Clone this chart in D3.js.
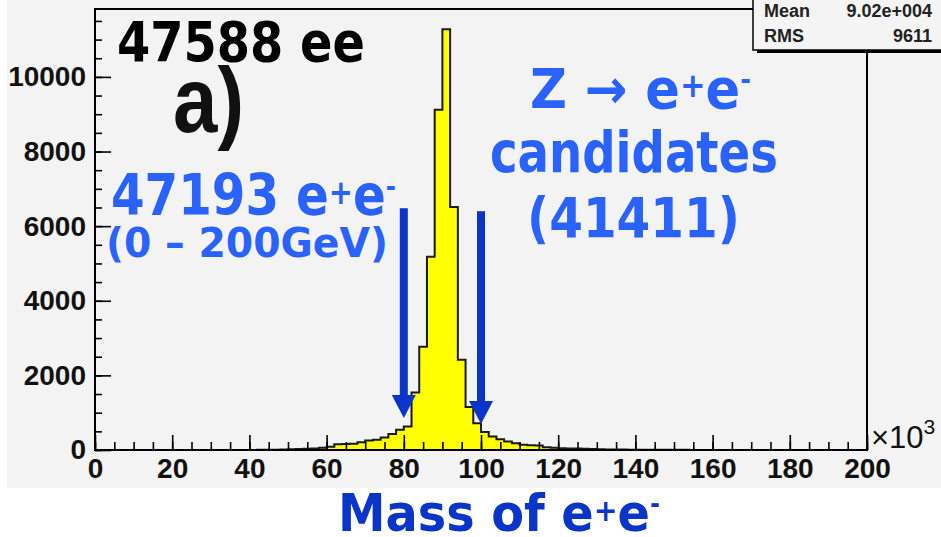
<!DOCTYPE html>
<html>
<head>
<meta charset="utf-8">
<script src="https://cdn.jsdelivr.net/npm/d3@7"></script>
<style>
  body { margin: 0; background: #fff; }
  svg { display: block; }
</style>
</head>
<body>
<div id="chart"></div>
<script>
// Histogram of e+e- invariant mass, 2 GeV bins from 0 to 200 (x10^3 MeV)
const binWidth = 2;
const binCounts = [
  0, 0, 0, 0, 0, 0, 0, 0, 0, 0,
  0, 0, 0, 0, 0, 0, 0, 0, 0, 0,
  3, 5, 8, 10, 14, 20, 26, 32, 42, 60,
  85, 155, 160, 165, 210, 255, 275, 335, 430, 540,
  630, 1540, 2770, 5180, 9120, 11280, 6510, 2420, 1150, 720,
  480, 360, 290, 225, 180, 140, 130, 120, 75, 58,
  48, 42, 38, 32, 26, 20, 16, 13, 11, 9,
  8, 7, 6, 5, 5, 4, 4, 3, 3, 3,
  2, 2, 2, 2, 2, 1, 1, 1, 1, 1,
  1, 1, 1, 1, 1, 1, 0, 0, 0, 0
];
const xTicks = [0, 20, 40, 60, 80, 100, 120, 140, 160, 180, 200];
const yTicks = [0, 2000, 4000, 6000, 8000, 10000];
const statLabels = ["Mean", "RMS"];
const statValues = ["9.02e+004", "9611"];
// mass window arrows: position, shaft top, arrow tip (counts)
const arrowMass = [80, 100];
const arrowTop = [6480, 6400];
const arrowTip = [860, 700];

const W = 941, H = 537;
const frame = {left: 95, right: 867, top: 9, bottom: 450};
const lightBlue = "#2a62ff", darkBlue = "#0a35c8";

const svg = d3.select("#chart").append("svg")
    .attr("width", W)
    .attr("height", H);

// canvas
svg.append("rect").attr("width", W).attr("height", H).attr("fill", "#fff");
svg.append("rect").attr("x", 7).attr("y", 0).attr("width", W - 7).attr("height", 488)
    .attr("fill", "#f3f3f3");

const x = d3.scaleLinear().domain([0, 200]).range([frame.left, frame.right]);
const y = d3.scaleLinear().domain([0, 11820]).range([frame.bottom, frame.top]);

// histogram
const bins = binCounts.map((n, i) => ({lo: i * binWidth, n: n}));
bins.push({lo: 200, n: binCounts[binCounts.length - 1]});

svg.append("path")
    .datum(bins)
    .attr("fill", "#ffff00")
    .attr("d", d3.area().curve(d3.curveStepAfter)
        .x(d => x(d.lo)).y0(y(0)).y1(d => y(d.n)));

svg.append("path")
    .datum(bins)
    .attr("fill", "none")
    .attr("stroke", "#1a1a1a")
    .attr("stroke-width", 2)
    .attr("d", d3.line().curve(d3.curveStepAfter)
        .x(d => x(d.lo)).y(d => y(d.n)));

// frame
svg.append("rect")
    .attr("x", frame.left).attr("y", frame.top)
    .attr("width", frame.right - frame.left).attr("height", frame.bottom - frame.top)
    .attr("fill", "none").attr("stroke", "#000").attr("stroke-width", 2);

// axes (ticks inside frame like ROOT)
const tickFont = "'Liberation Sans', Arial, sans-serif";

svg.append("g")
    .attr("transform", "translate(0," + frame.bottom + ")")
    .call(d3.axisBottom(x).tickValues(d3.range(0, 201, 5)).tickSize(-8).tickFormat(""))
    .call(g => g.select(".domain").remove());

const xAxis = svg.append("g")
    .attr("transform", "translate(0," + frame.bottom + ")")
    .call(d3.axisBottom(x).tickValues(xTicks).tickSize(-15).tickPadding(8).tickFormat(d3.format("d")));
xAxis.select(".domain").remove();

svg.append("g")
    .attr("transform", "translate(" + frame.left + ",0)")
    .call(d3.axisLeft(y).tickValues(d3.range(0, 11801, 500)).tickSize(-7).tickFormat(""))
    .call(g => g.select(".domain").remove());

const yAxis = svg.append("g")
    .attr("transform", "translate(" + frame.left + ",0)")
    .call(d3.axisLeft(y).tickValues(yTicks).tickSize(-16).tickPadding(9).tickFormat(d3.format("d")));
yAxis.select(".domain").remove();

svg.selectAll(".tick line").attr("stroke", "#000").attr("stroke-width", 1.6);
svg.selectAll(".tick text")
    .attr("fill", "#111")
    .style("font-family", tickFont)
    .style("font-weight", "bold")
    .style("font-size", "28px");

// x10^3 multiplier
const mult = svg.append("text")
    .attr("x", 871).attr("y", 448)
    .attr("fill", "#111")
    .style("font-family", tickFont)
    .style("font-size", "31px");
mult.append("tspan").text("\u00d710");
mult.append("tspan").attr("dy", -14).style("font-size", "21px").text("3");

// stats box
const stat = svg.append("g");
stat.append("rect").attr("x", 757).attr("y", 50).attr("width", 200).attr("height", 3).attr("fill", "#000");
stat.append("rect").attr("x", 753).attr("y", -5).attr("width", 200).attr("height", 55)
    .attr("fill", "#f4f4f4").attr("stroke", "#000").attr("stroke-width", 1.5);
statLabels.forEach((s, i) => {
  stat.append("text").attr("x", 764).attr("y", 17 + i * 25)
      .attr("fill", "#222").style("font-family", tickFont).style("font-weight", "bold")
      .style("font-size", "18px").text(s);
  stat.append("text").attr("x", 932).attr("y", 17 + i * 25).attr("text-anchor", "end")
      .attr("fill", "#222").style("font-family", tickFont).style("font-weight", "bold")
      .style("font-size", "18px").text(statValues[i]);
});

// arrows marking the Z window
const arrows = svg.selectAll(".arrow")
    .data(arrowMass)
  .enter().append("g")
    .attr("class", "arrow");
arrows.append("rect")
    .attr("x", d => x(d) - 4)
    .attr("y", (d, i) => y(arrowTop[i]))
    .attr("width", 8)
    .attr("height", (d, i) => y(arrowTip[i]) - 22 - y(arrowTop[i]) + 1)
    .attr("fill", darkBlue);
arrows.append("path")
    .attr("d", (d, i) => {
      const tx = x(d), ty = y(arrowTip[i]);
      return "M" + (tx - 12) + "," + (ty - 23) + "L" + (tx + 12) + "," + (ty - 23) + "L" + tx + "," + ty + "Z";
    })
    .attr("fill", darkBlue);

// text helpers
function fitText(t, left, right, baseline) {
  const bb = t.node().getBBox();
  const sx = (right - left) / bb.width;
  t.attr("transform", "translate(" + (left - bb.x * sx) + "," + baseline + ") scale(" + sx + ",1)");
}
function addEE(t, size) {
  t.append("tspan").text("e");
  t.append("tspan").attr("dy", -size * 0.2).style("font-size", Math.round(size * 0.6) + "px").text("+");
  t.append("tspan").attr("dy", size * 0.2).text("e");
  t.append("tspan").attr("dy", -size * 0.34).style("font-size", Math.round(size * 0.5) + "px").text("-");
}
function label(str, size, color, family) {
  return svg.append("text")
      .attr("fill", color)
      .style("font-family", family || "'DejaVu Sans', sans-serif")
      .style("font-weight", "bold")
      .style("font-size", size + "px")
      .text(str);
}

fitText(label("47588 ee", 55, "#000"), 117, 365, 61);
fitText(label("a)", 92, "#111", "'Liberation Sans', Arial, sans-serif"), 173, 244, 132);

let t = label("Z \u2192 ", 55, lightBlue);
addEE(t, 55);
fitText(t, 530, 751, 108);

fitText(label("candidates", 57, lightBlue), 490, 778, 172);
fitText(label("(41411)", 55, lightBlue), 527, 740, 237);

t = label("47193 ", 57, lightBlue);
addEE(t, 57);
fitText(t, 111, 396, 215);

fitText(label("(0 \u2013 200GeV)", 41, lightBlue), 106, 388, 257);

t = label("Mass of ", 52, darkBlue);
addEE(t, 52);
fitText(t, 338, 660, 531);
</script>
</body>
</html>
